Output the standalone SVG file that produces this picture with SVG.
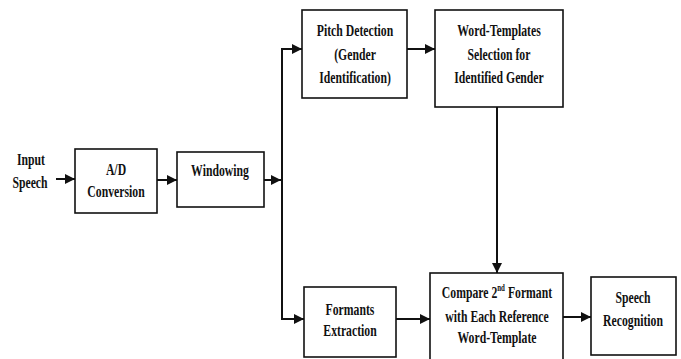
<svg xmlns="http://www.w3.org/2000/svg" width="681" height="359" viewBox="0 0 681 359">
<style>
.box{fill:#fff;stroke:#111;stroke-width:1.6}
.ln{fill:none;stroke:#111;stroke-width:2}
.t{font-family:'Liberation Serif','DejaVu Serif','Times New Roman',serif;font-weight:700;font-size:17px;fill:#111;text-anchor:middle}
</style>
<defs>
<marker id="ah" viewBox="0 0 10 10" refX="10" refY="5" markerWidth="5" markerHeight="5" orient="auto" markerUnits="strokeWidth">
<path d="M0,0 L10,5 L0,10 z" fill="#111"/>
</marker>
</defs>
<rect width="681" height="359" fill="#fff"/>
<g id="connectors">
<line class="ln" x1="56" y1="179" x2="75" y2="179" marker-end="url(#ah)"/>
<line class="ln" x1="157" y1="180" x2="177" y2="180" marker-end="url(#ah)"/>
<line class="ln" x1="264" y1="180" x2="281" y2="180" marker-end="url(#ah)"/>
<polyline class="ln" points="282,319 282,49 302,49" marker-end="url(#ah)"/>
<line class="ln" x1="281" y1="319" x2="304" y2="319" marker-end="url(#ah)"/>
<line class="ln" x1="407" y1="49" x2="435" y2="49" marker-end="url(#ah)"/>
<line class="ln" x1="497" y1="107" x2="497" y2="273" marker-end="url(#ah)"/>
<line class="ln" x1="396" y1="319" x2="430" y2="319" marker-end="url(#ah)"/>
<line class="ln" x1="563" y1="317" x2="591" y2="317" marker-end="url(#ah)"/>
</g>
<g id="input">
<text class="t" transform="translate(31,165) scale(0.69,1)">Input</text>
<text class="t" transform="translate(30,188) scale(0.69,1)">Speech</text>
</g>
<g id="ad">
<rect class="box" x="75" y="149" width="82" height="64"/>
<text class="t" transform="translate(116,175) scale(0.69,1)">A/D</text>
<text class="t" transform="translate(116,197) scale(0.69,1)">Conversion</text>
</g>
<g id="windowing">
<rect class="box" x="177" y="152" width="87" height="55"/>
<text class="t" transform="translate(220,176) scale(0.69,1)">Windowing</text>
</g>
<g id="pitch">
<rect class="box" x="302" y="10" width="105" height="88"/>
<text class="t" transform="translate(355,36) scale(0.69,1)">Pitch Detection</text>
<text class="t" transform="translate(355,60) scale(0.69,1)">(Gender</text>
<text class="t" transform="translate(355,83) scale(0.69,1)">Identification)</text>
</g>
<g id="word">
<rect class="box" x="435" y="10" width="128" height="97"/>
<text class="t" transform="translate(499,36) scale(0.69,1)">Word-Templates</text>
<text class="t" transform="translate(499,60) scale(0.69,1)">Selection for</text>
<text class="t" transform="translate(499,83) scale(0.69,1)">Identified Gender</text>
</g>
<g id="formants">
<rect class="box" x="304" y="287" width="92" height="70"/>
<text class="t" transform="translate(350,315) scale(0.69,1)">Formants</text>
<text class="t" transform="translate(350,336) scale(0.69,1)">Extraction</text>
</g>
<g id="compare">
<rect class="box" x="430" y="273" width="133" height="90"/>
<text class="t" transform="translate(497,298) scale(0.69,1)">Compare 2<tspan font-size="10" dy="-7">nd</tspan><tspan dy="7"> Formant</tspan></text>
<text class="t" transform="translate(497,322) scale(0.69,1)">with Each Reference</text>
<text class="t" transform="translate(497,343) scale(0.69,1)">Word-Template</text>
</g>
<g id="speech">
<rect class="box" x="591" y="277" width="85" height="78"/>
<text class="t" transform="translate(633,303) scale(0.69,1)">Speech</text>
<text class="t" transform="translate(633,326) scale(0.69,1)">Recognition</text>
</g>
</svg>
